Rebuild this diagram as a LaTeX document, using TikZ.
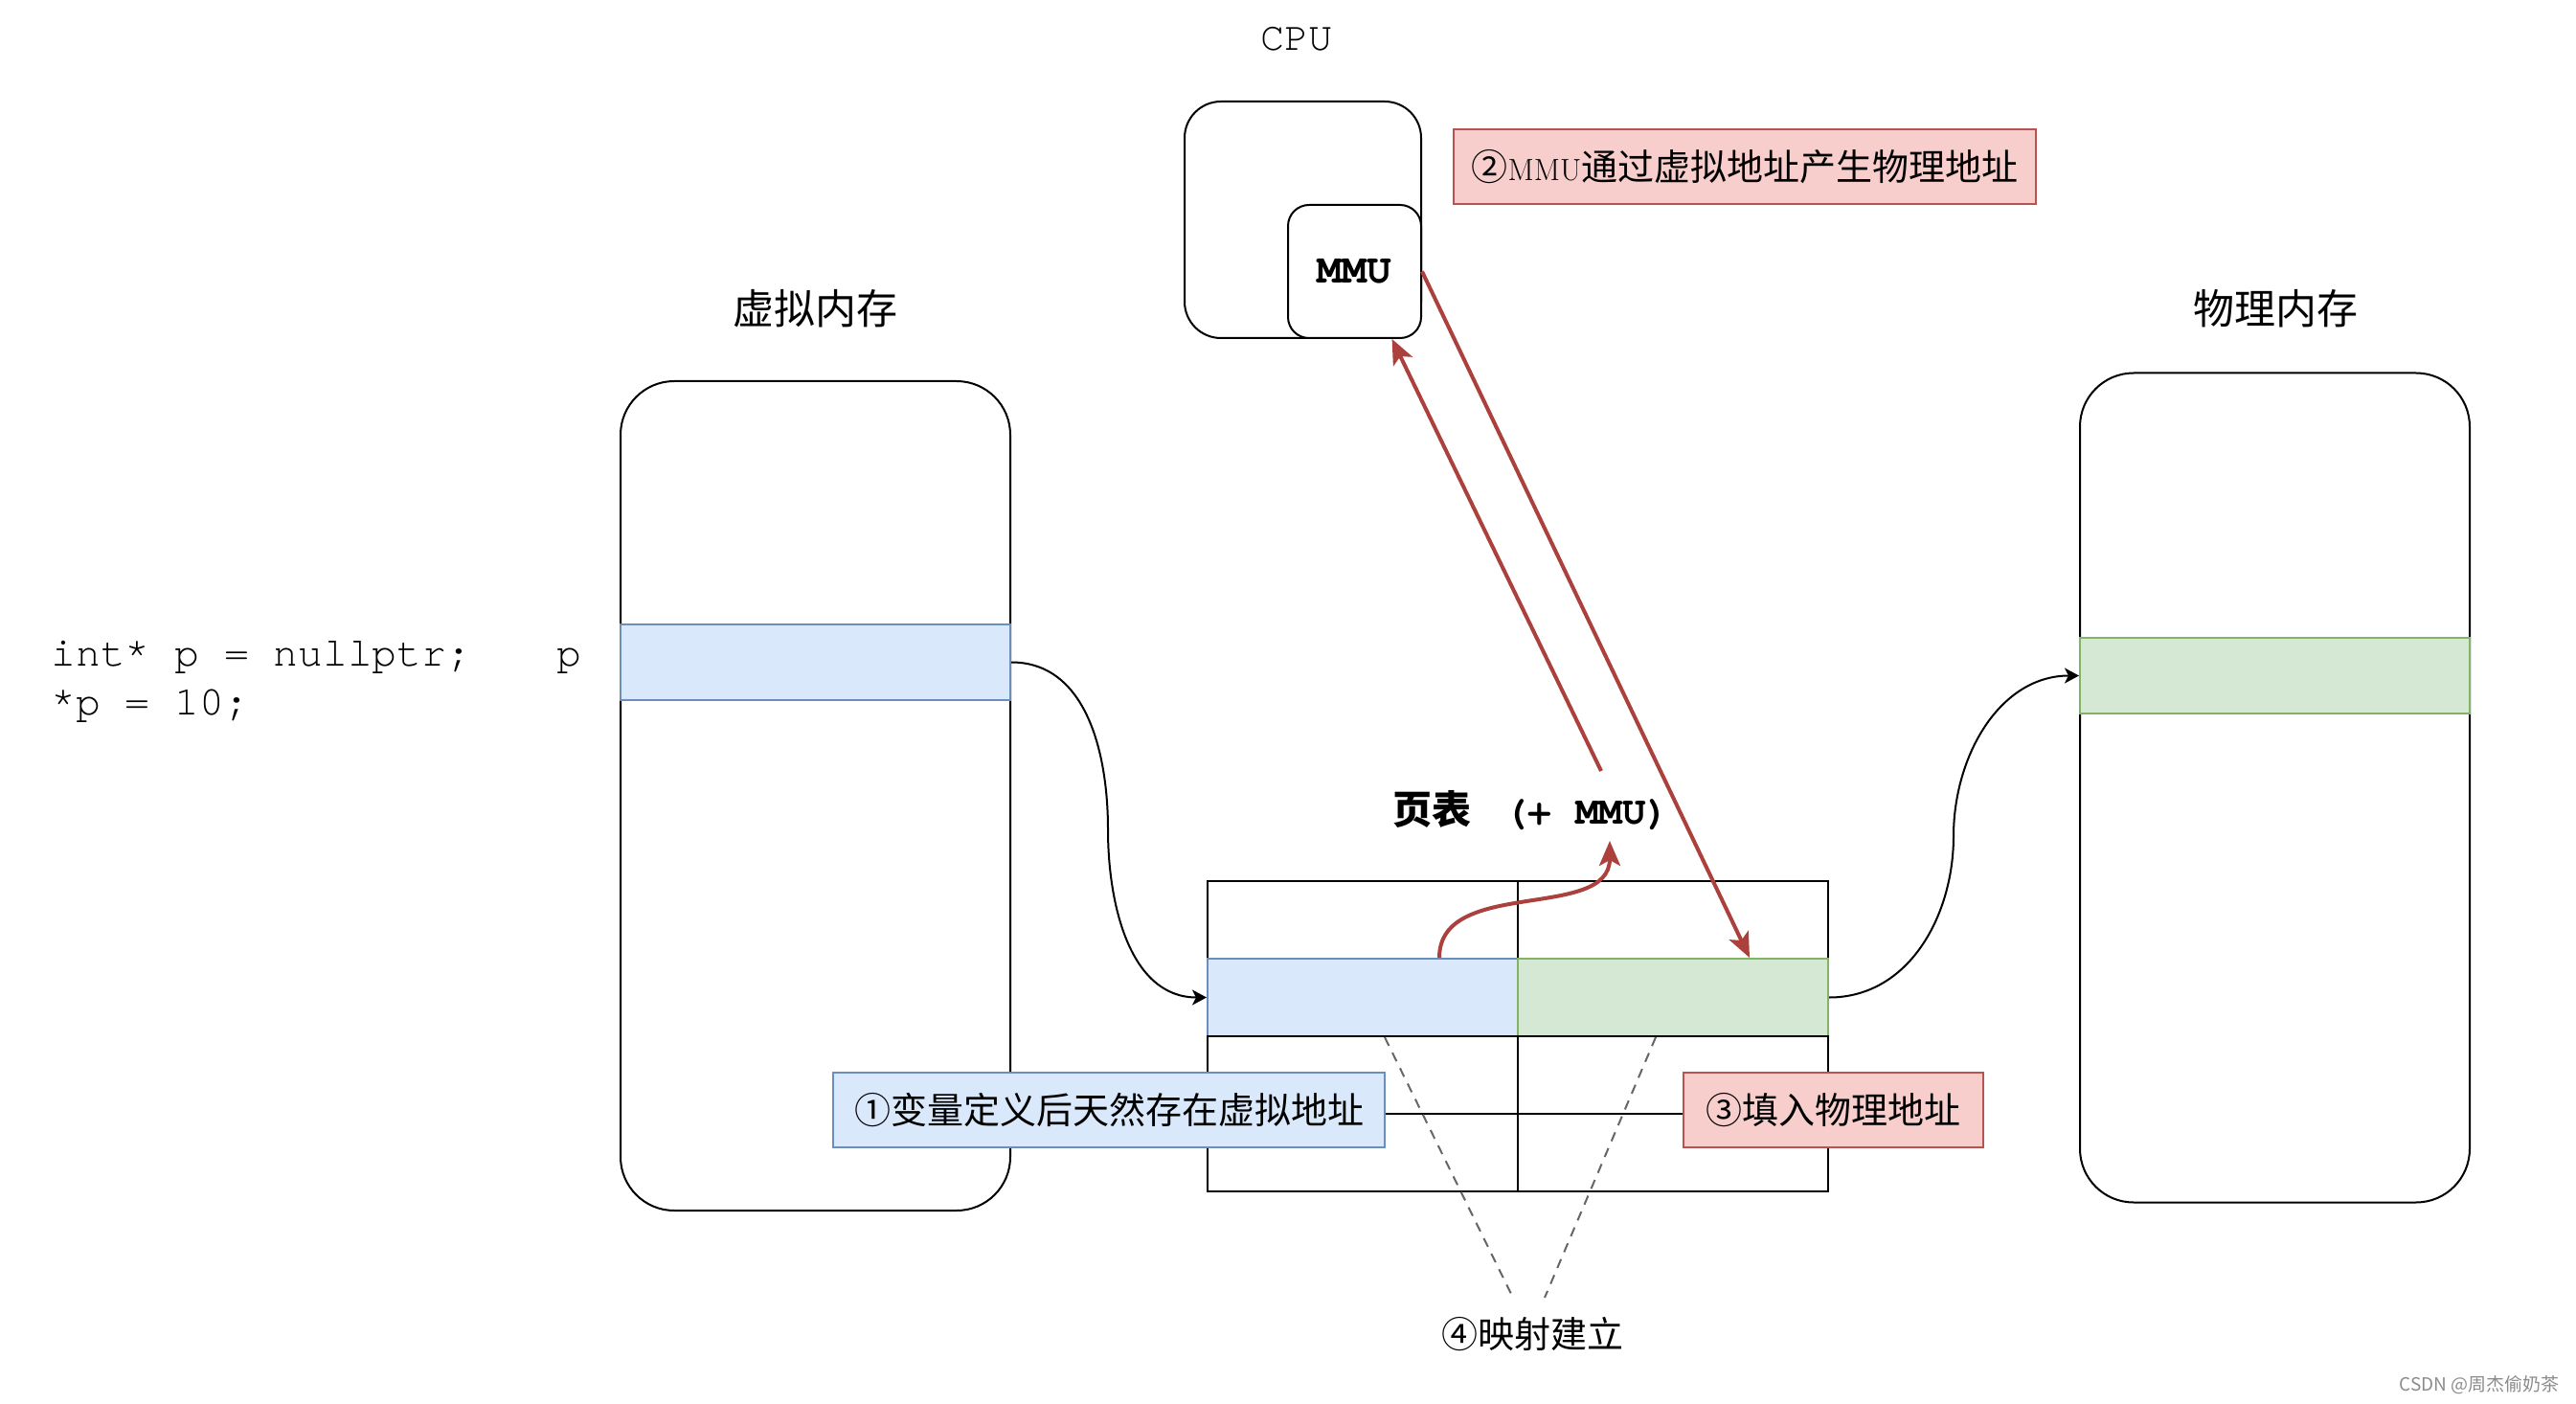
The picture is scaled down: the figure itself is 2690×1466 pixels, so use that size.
\documentclass[tikz,border=0pt]{standalone}
\usepackage{fontspec}
\usepackage{tikz}
\usetikzlibrary{arrows.meta}
\setmonofont{texgyrecursor}[Extension=.otf, UprightFont=*-regular, BoldFont=*-bold]
\newfontfamily\cjk{Noto Sans CJK SC}
\definecolor{vblue}{HTML}{DAE8FC}
\definecolor{vblueline}{HTML}{6C8EBF}
\definecolor{pgreen}{HTML}{D5E8D4}
\definecolor{pgreenline}{HTML}{82B366}
\definecolor{nred}{HTML}{F8CECC}
\definecolor{nredline}{HTML}{B85450}
\definecolor{arrowred}{RGB}{172,64,60}

\begin{document}
\begin{tikzpicture}[x=0.5pt, y=-0.5pt,
    memory/.style={shape=rectangle, draw=black, line width=1pt, rounded corners=28pt, minimum width=203.5pt, minimum height=433pt},
    memrow/.style={shape=rectangle, line width=1pt, minimum width=203.5pt, minimum height=39.5pt},
    cell/.style={shape=rectangle, draw=black, line width=1pt, minimum width=162pt, minimum height=40.5pt},
    note/.style={shape=rectangle, line width=1pt, minimum height=39pt, inner sep=0pt, font={\cjk\fontsize{19}{19}\selectfont}},
    title/.style={inner sep=0pt, font={\cjk\fontsize{21.5}{21.5}\selectfont}},
    redarrow/.style={color=arrowred, line width=2pt, -{Stealth[length=13pt, width=11pt, inset=3pt]}},
    blackarrow/.style={draw=black, line width=1pt, -{Stealth[length=7.5pt, width=8pt, inset=2pt]}},
    mapline/.style={color=black!60, line width=1pt, dash pattern=on 5pt off 4pt}]
				\fill[white] (0,0) rectangle (2690,1466);
				\useasboundingbox (0,0) rectangle (2690,1466);
				% memories
				\node[memory] (vmem) at (851.5,831) {};
				\node[memory] (pmem) at (2375.5,822.5) {};
				\node[memrow, draw=vblueline, fill=vblue] (vrow) at (851.5,691.5) {};
				\node[memrow, draw=pgreenline, fill=pgreen] (prow) at (2375.5,705.5) {};
				\node[title] (vtitle) at (851,322) {虚拟内存};
				\node[title] (ptitle) at (2376,322) {物理内存};
				\node[anchor=west, inner sep=0pt, align=left, font={\ttfamily\fontsize{21.5}{25.5}\selectfont}] (code) at (53,712) {int* p = nullptr;\\{}*p = 10;};
				\node[inner sep=0pt, font={\ttfamily\fontsize{21.5}{21.5}\selectfont}] (plabel) at (594,690) {p};
				% page table
				\node[cell] (c11) at (1423,960.5) {};
				\node[cell] (c12) at (1747,960.5) {};
				\node[cell, draw=vblueline, fill=vblue] (vcell) at (1423,1041.5) {};
				\node[cell, draw=pgreenline, fill=pgreen] (pcell) at (1747,1041.5) {};
				\node[cell] (c31) at (1423,1122.5) {};
				\node[cell] (c32) at (1747,1122.5) {};
				\node[cell] (c41) at (1423,1203.5) {};
				\node[cell] (c42) at (1747,1203.5) {};
				\node[inner sep=0pt] (pttitle) at (1599,846) {{\cjk\bfseries\fontsize{20.5}{20.5}\selectfont 页表}{\ttfamily\bfseries\fontsize{20.5}{20.5}\selectfont\hspace{5pt}\ (+ MMU)}};
				% cpu
				\node[inner sep=0pt, font={\ttfamily\fontsize{21}{21}\selectfont}] (cpulabel) at (1354,41) {CPU};
				\node[shape=rectangle, draw=black, line width=1pt, rounded corners=19pt, minimum size=123.5pt] (cpu) at (1360.5,229.5) {};
				\node[shape=rectangle, draw=black, fill=white, line width=1pt, rounded corners=11pt, minimum size=69.5pt, font={\ttfamily\bfseries\fontsize{21.5}{21.5}\selectfont}] (mmu) at (1414.5,283.5) {MMU};
				% notes
				\node[note, draw=vblueline, fill=vblue, minimum width=288pt] (note1) at (1158,1159) {①变量定义后天然存在虚拟地址};
				\node[note, draw=nredline, fill=nred, minimum width=304pt] (note2) at (1822,174) {②{\rmfamily\fontsize{16}{16}\selectfont MMU}通过虚拟地址产生物理地址};
				\node[note, draw=nredline, fill=nred, minimum width=156.5pt] (note3) at (1914.5,1159) {③填入物理地址};
				\node[inner sep=0pt, font={\cjk\fontsize{19}{19}\selectfont}] (map) at (1600,1393) {④映射建立};
				\node[anchor=east, inner sep=0pt, text=black!45, font={\cjk\fontsize{9.5}{9.5}\selectfont}] (mark) at (2673,1446) {CSDN @周杰偷奶茶};
				% connectors
				\coordinate (vbend) at (1157,866);
				\coordinate (pbend) at (2040,873);
				\coordinate (pttail) at (1672,805);
				\coordinate (pthead) at (1681,878);
				\coordinate (mapl) at (1580,1355);
				\coordinate (mapr) at (1613,1355);
				\draw[blackarrow] (vrow.east) to[out=0, in=90] (vbend) to[out=-90, in=180] (vcell.west);
				\draw[blackarrow] (pcell.east) to[out=0, in=-90] (pbend) to[out=90, in=180] (prow.west);
				\path[mapline] ([xshift=11.5pt]vcell.south) edge (mapl);
				\path[mapline] ([xshift=-9pt]pcell.south) edge (mapr);
				\path[redarrow] ([xshift=40pt]vcell.north) edge[out=90, in=-90] (pthead);
				\path[redarrow] (pttail) edge (mmu.-61);
				\path[redarrow] (mmu.east) edge ([xshift=40pt]pcell.north);
			\end{tikzpicture}
\end{document}
